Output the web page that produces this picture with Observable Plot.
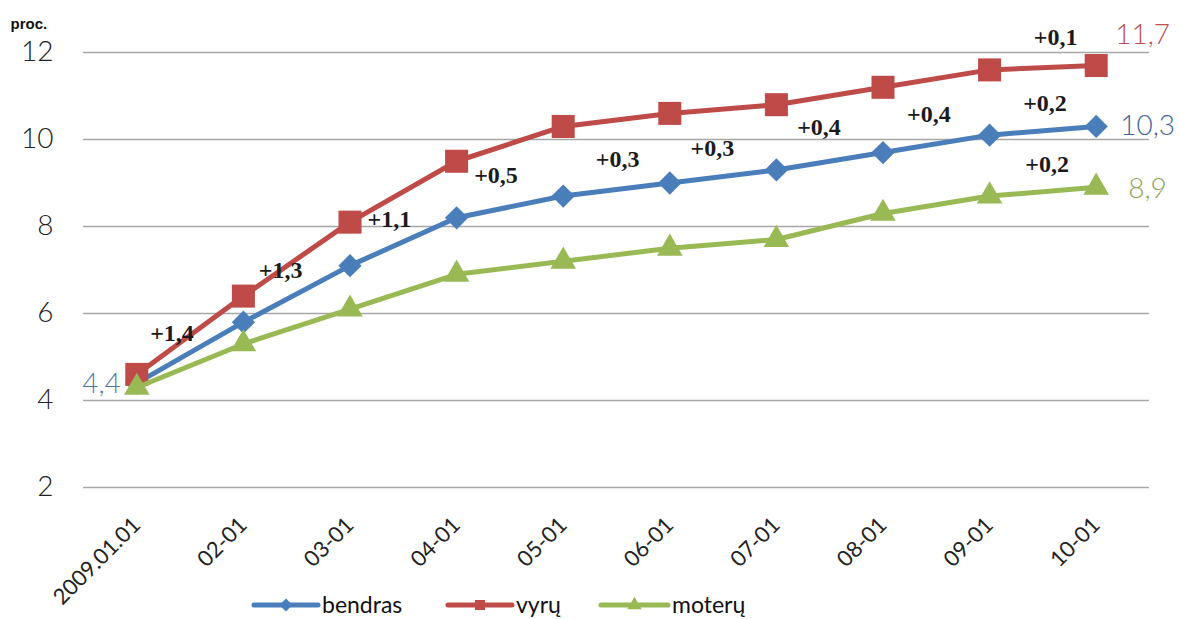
<!DOCTYPE html>
<html>
<head>
<meta charset="utf-8">
<script src="https://cdn.jsdelivr.net/npm/d3@7"></script>
<script src="https://cdn.jsdelivr.net/npm/@observablehq/plot@0.6"></script>
<style>
  html, body { margin: 0; padding: 0; background: #fff; }
  #wrap { width: 1179px; height: 619px; position: relative; overflow: hidden; }
  #legend { display: block; }
</style>
</head>
<body>
<div id="wrap"></div>
<script>
// ---- data ----
const categories = ["2009.01.01", "02-01", "03-01", "04-01", "05-01", "06-01", "07-01", "08-01", "09-01", "10-01"];
const bendras = [4.4, 5.8, 7.1, 8.2, 8.7, 9.0, 9.3, 9.7, 10.1, 10.3];
const vyru    = [4.6, 6.4, 8.1, 9.5, 10.3, 10.6, 10.8, 11.2, 11.6, 11.7];
const moteru  = [4.3, 5.3, 6.1, 6.9, 7.2, 7.5, 7.7, 8.3, 8.7, 8.9];
const yTicks = [2, 4, 6, 8, 10, 12];
const seriesNames = ["bendras", "vyrų", "moterų"];
const yLabel = "proc.";
// change annotations (text, fractional category index, value)
const changeLabels = ["+1,4", "+1,3", "+1,1", "+0,5", "+0,3", "+0,3", "+0,4", "+0,4", "+0,2", "+0,2", "+0,1"];
const changeX = [0.33, 1.35, 2.37, 3.37, 4.51, 5.40, 6.40, 7.43, 8.52, 8.54, 8.62];
const changeY = [5.54, 7.00, 8.16, 9.17, 9.54, 9.79, 10.27, 10.59, 10.84, 9.42, 12.36];

// ---- styling ----
const colors = {bendras: "#4a7ebb", "vyrų": "#be4b48", "moterų": "#98b954"};
const symbols = {bendras: "diamond2", "vyrų": "square", "moterų": "triangle"};
const radii = {bendras: 10.5, "vyrų": 13, "moterų": 9.5};
const seriesValues = {bendras, "vyrų": vyru, "moterų": moteru};
const fmt = v => d3.format(".1f")(v).replace(".", ",");
const idx = d3.range(categories.length);
const last = categories.length - 1;

const marks = [
  Plot.gridY(yTicks, {stroke: "#a6a6a6", strokeOpacity: 1, strokeWidth: 1.5}),
  Plot.axisY(yTicks, {tickSize: 0, tickPadding: 30, fontSize: 28, fontFamily: "Lato", fontWeight: 300, fill: "#222", label: null}),
  Plot.axisX(idx, {tickSize: 0, tickPadding: 34, tickRotate: -45, tickFormat: i => categories[i],
    fontSize: 22, fontFamily: "Lato", fill: "#222", label: null}),
  Plot.text([yLabel], {frameAnchor: "top-left", dx: -73, dy: -34, text: d => d, textAnchor: "start",
    fontSize: 15, fontWeight: "bold", fontFamily: "Liberation Sans", fill: "#111"})
];
for (const name of seriesNames) {
  const vals = seriesValues[name];
  marks.push(Plot.line(vals, {x: (d, i) => i, y: d => d, stroke: colors[name], strokeWidth: 5}));
  marks.push(Plot.dot(vals, {x: (d, i) => i, y: d => d, symbol: symbols[name], r: radii[name],
    fill: colors[name], stroke: "none"}));
}
marks.push(Plot.text(changeLabels, {x: (d, i) => changeX[i], y: (d, i) => changeY[i], text: d => d,
  fontFamily: "Liberation Serif", fontWeight: "bold", fontSize: 24, fill: "#1a1a1a"}));
// end value labels
marks.push(Plot.text([vyru[last]], {x: () => last, y: d => d, text: fmt, dx: 19, dy: -31, textAnchor: "start",
  fontFamily: "Lato", fontWeight: 300, fontSize: 28, fill: "#c0504d"}));
marks.push(Plot.text([bendras[last]], {x: () => last, y: d => d, text: fmt, dx: 24, dy: 0, textAnchor: "start",
  fontFamily: "Lato", fontWeight: 300, fontSize: 28, fill: "#3f6596"}));
marks.push(Plot.text([moteru[last]], {x: () => last, y: d => d, text: fmt, dx: 32, dy: 2, textAnchor: "start",
  fontFamily: "Lato", fontWeight: 300, fontSize: 28, fill: "#8ea35c"}));
marks.push(Plot.text([bendras[0]], {x: () => 0, y: d => d, text: fmt, dx: -16, dy: 1, textAnchor: "end",
  fontFamily: "Lato", fontWeight: 300, fontSize: 28, fill: "#4f78a8"}));

const chart = Plot.plot({
  width: 1179,
  height: 590,
  marginLeft: 83,
  marginRight: 30,
  marginTop: 52,
  marginBottom: 103,
  style: {fontFamily: "Lato", fontSize: "22px", background: "white", overflow: "visible"},
  x: {type: "linear", domain: [-0.5, 9.5]},
  y: {domain: [2, 12]},
  marks
});
document.getElementById("wrap").appendChild(chart);

// ---- legend (below the SVG) ----
const legendItems = [
  {name: "bendras", x0: 254, x1: 318},
  {name: "vyrų", x0: 448, x1: 512},
  {name: "moterų", x0: 601, x1: 668}
];
const lg = d3.select("#wrap").append("svg").attr("id", "legend").attr("width", 1179).attr("height", 29);
const symMap = {diamond2: d3.symbolDiamond2, square: d3.symbolSquare, triangle: d3.symbolTriangle};
const legendSize = {bendras: 110, "vyrų": 100, "moterų": 90};
for (const it of legendItems) {
  const g = lg.append("g");
  g.append("line").attr("x1", it.x0).attr("x2", it.x1).attr("y1", 15).attr("y2", 15)
    .attr("stroke", colors[it.name]).attr("stroke-width", 5).attr("stroke-linecap", "round");
  g.append("path").attr("d", d3.symbol(symMap[symbols[it.name]], legendSize[it.name])())
    .attr("transform", `translate(${(it.x0 + it.x1) / 2},15)`).attr("fill", colors[it.name]);
  g.append("text").attr("x", it.x1 + 4).attr("y", 15).attr("dy", "0.35em")
    .attr("font-family", "Lato").attr("font-size", 23).attr("fill", "#111").text(it.name);
}
</script>
</body>
</html>
